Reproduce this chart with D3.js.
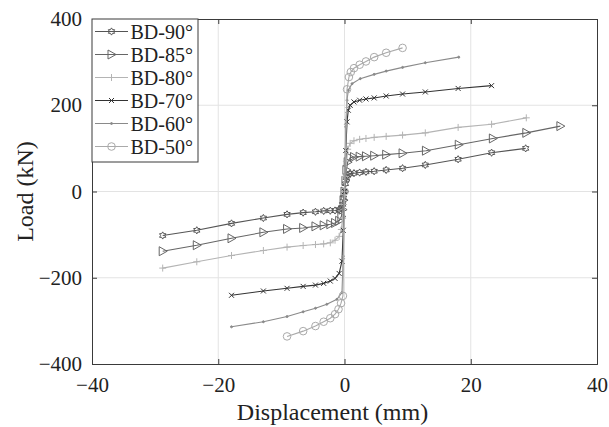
<!DOCTYPE html>
<html><head><meta charset="utf-8">
<script src="https://cdn.jsdelivr.net/npm/d3@7"></script>
<style>body{margin:0;background:#fff}svg{display:block}</style>
</head><body><svg id="c" width="609" height="427"></svg>
<script>
const seriesNames = ["BD-90°","BD-85°","BD-80°","BD-70°","BD-60°","BD-50°"];
const xTicks = [-40,-20,0,20,40];
const yTicks = [-400,-200,0,200,400];

const bd90Disp = [-28.8,-23.4,-17.9,-12.85,-9.1,-6.55,-4.6,-3.3,-2.25,-1.5,-0.85,-0.5,-0.3,-0.15,0,0.15,0.3,0.5,0.9,1.5,2.4,3.4,4.7,6.6,9.2,12.8,18.0,23.3,28.7];
const bd90Load = [-102,-90,-74,-61.5,-53,-49,-47,-45,-44.5,-44,-42,-38,-30,-15,0,18,32,38,41,42.5,44,45.5,47,50,54,61.6,74.7,90,100];

const bd85Disp = [-28.8,-23.4,-17.9,-12.85,-9.1,-6.55,-4.6,-3.3,-2.25,-1.5,-0.85,-0.5,-0.3,-0.15,0,0.15,0.3,0.5,0.9,1.5,2.4,3.4,4.7,6.6,9.2,12.9,18.1,23.5,28.8,34.2];
const bd85Load = [-138.5,-124.6,-108.5,-94.6,-86.8,-84.5,-80.8,-78.5,-76,-73,-68,-58,-42,-20,0,25,50,68,78.5,80,80.8,81.7,83,85.4,88.6,94.6,108.5,123,136,151.6];

const bd80Disp = [-28.8,-23.4,-17.9,-12.85,-9.1,-6.55,-4.6,-3.3,-2.25,-1.5,-0.85,-0.5,-0.3,-0.15,0,0.15,0.3,0.5,0.9,1.5,2.4,3.4,4.7,6.6,9.2,12.8,18.0,23.3,28.8];
const bd80Load = [-177.6,-163,-148.4,-136.8,-129,-125.3,-123,-121.5,-119,-113,-104,-88,-62,-30,0,35,70,98,111.7,117.7,121,123,125.5,127.8,130.8,136,148.6,156,170.8];

const bd70Disp = [-17.9,-12.85,-9.1,-6.55,-4.6,-3.3,-2.25,-1.5,-0.85,-0.4,-0.2,0,0.2,0.4,0.6,0.9,1.5,2.4,3.4,4.7,6.6,9.2,12.8,18.0,23.3];
const bd70Load = [-240.7,-230.7,-224.5,-220,-217,-213,-207.7,-201.5,-190,-161.5,-90,0,95,161.5,188.5,200,207.7,211.6,214.6,217,221.5,226,230.8,239,245.5];

const bd60Disp = [-17.9,-12.85,-9.1,-6.55,-4.6,-2.8,-1.2,-0.4,-0.2,0,0.2,0.4,0.6,1.2,2.5,4.7,6.6,9.2,12.8,18.1];
const bd60Load = [-313.8,-302,-290,-279,-270.7,-261.5,-250,-234.5,-150,0,150,211.6,234.7,250,261.7,271.6,279.2,287.8,298.6,311.5];

const bd50Disp = [-9.1,-6.55,-4.6,-3.3,-2.25,-1.5,-0.95,-0.55,-0.25,0,0.4,0.7,1.0,1.5,2.4,3.4,4.7,6.6,9.2];
const bd50Load = [-336,-323.8,-312,-302,-293.8,-284.5,-273,-259,-242,0,237,265.4,277,286,294,301.6,311.6,321.7,333];

const colors = ["#555555","#666666","#b4b4b4","#333333","#8a8a8a","#aaaaaa"];
const markerTypes = ["hexagram","triangle","plus","cross","dot","circle"];
const dispArrays = [bd90Disp,bd85Disp,bd80Disp,bd70Disp,bd60Disp,bd50Disp];
const loadArrays = [bd90Load,bd85Load,bd80Load,bd70Load,bd60Load,bd50Load];

const svg = d3.select("#c");
const m = {l:92, r:597, t:19, b:364};
const x = d3.scaleLinear().domain([-40,40]).range([m.l,m.r]);
const y = d3.scaleLinear().domain([-400,400]).range([m.b,m.t]);
const axisColor = "#3a3a3a";
const font = "'Liberation Serif','Times New Roman',serif";

// grid
const g = svg.append("g");
g.selectAll(".gx").data(xTicks.slice(1,-1)).enter().append("line")
  .attr("x1",d=>x(d)).attr("x2",d=>x(d)).attr("y1",m.t).attr("y2",m.b)
  .attr("stroke","#e3e3e3").attr("stroke-width",1);
g.selectAll(".gy").data(yTicks.slice(1,-1)).enter().append("line")
  .attr("y1",d=>y(d)).attr("y2",d=>y(d)).attr("x1",m.l).attr("x2",m.r)
  .attr("stroke","#e3e3e3").attr("stroke-width",1);

// axes (ticks inward, box)
const ax = svg.append("g").attr("transform",`translate(0,${m.b})`)
  .call(d3.axisBottom(x).tickValues(xTicks).tickSize(-5).tickPadding(13).tickFormat(d3.format("d")));
const axT = svg.append("g").attr("transform",`translate(0,${m.t})`)
  .call(d3.axisTop(x).tickValues(xTicks).tickSize(-5).tickFormat(""));
const ay = svg.append("g").attr("transform",`translate(${m.l},0)`)
  .call(d3.axisLeft(y).tickValues(yTicks).tickSize(-5).tickPadding(10).tickFormat(d3.format("d")));
const ayR = svg.append("g").attr("transform",`translate(${m.r},0)`)
  .call(d3.axisRight(y).tickValues(yTicks).tickSize(-5).tickFormat(""));
[ax,axT,ay,ayR].forEach(a=>{
  a.select(".domain").attr("stroke",axisColor).attr("stroke-width",1);
  a.selectAll(".tick line").attr("stroke",axisColor);
  a.selectAll("text").attr("fill","#222").style("font-family",font).style("font-size","21px");
});

// marker paths
function markerPath(type){
  if(type==="hexagram"){
    const pts=[];for(let i=0;i<12;i++){const r=i%2?2.1:3.6;const a=Math.PI/6*i-Math.PI/2;pts.push([r*Math.cos(a),r*Math.sin(a)]);}
    return "M"+pts.map(p=>p.join(",")).join("L")+"Z";
  }
  if(type==="triangle") return "M-3.5,-4.5L4.5,0L-3.5,4.5Z";
  if(type==="plus") return "M-3.5,0H3.5M0,-3.5V3.5";
  if(type==="cross") return "M-2.5,-2.5L2.5,2.5M-2.5,2.5L2.5,-2.5";
  if(type==="dot") return "M-1,0a1,1 0 1,0 2,0a1,1 0 1,0 -2,0";
  if(type==="circle") return "M-3.8,0a3.8,3.8 0 1,0 7.6,0a3.8,3.8 0 1,0 -7.6,0";
}

const line = d3.line().x(d=>x(d[0])).y(d=>y(d[1]));
seriesNames.forEach((name,i)=>{
  const data = dispArrays[i].map((d,j)=>[d,loadArrays[i][j]]);
  const sg = svg.append("g");
  sg.append("path").datum(data).attr("d",line).attr("fill","none")
    .attr("stroke",colors[i]).attr("stroke-width",1.1);
  sg.selectAll("path.mk").data(data).enter().append("path").attr("class","mk")
    .attr("transform",d=>`translate(${x(d[0])},${y(d[1])})`)
    .attr("d",markerPath(markerTypes[i]))
    .attr("fill",markerTypes[i]==="dot"?colors[i]:"none").attr("stroke",colors[i]).attr("stroke-width",1);
});

// legend
const lg = svg.append("g");
lg.append("rect").attr("x",m.l).attr("y",m.t).attr("width",106).attr("height",143)
  .attr("fill","#fff").attr("stroke",axisColor).attr("stroke-width",1);
seriesNames.forEach((name,i)=>{
  const yy = 31.5 + i*23;
  lg.append("line").attr("x1",95).attr("x2",128).attr("y1",yy).attr("y2",yy)
    .attr("stroke",colors[i]).attr("stroke-width",1.1);
  lg.append("path").attr("transform",`translate(111.5,${yy})`).attr("d",markerPath(markerTypes[i]))
    .attr("fill",markerTypes[i]==="dot"?colors[i]:"none").attr("stroke",colors[i]);
  lg.append("text").attr("x",130.5).attr("y",yy+7).text(name)
    .style("font-family",font).style("font-size","20px").attr("fill","#222");
});

// axis labels
svg.append("text").attr("x",x(0)-12).attr("y",420).attr("text-anchor","middle")
  .text("Displacement (mm)").style("font-family",font).style("font-size","24px").attr("fill","#222");
svg.append("text").attr("transform",`translate(33,${y(0)}) rotate(-90)`).attr("text-anchor","middle")
  .text("Load (kN)").style("font-family",font).style("font-size","24px").attr("fill","#222");
</script></body></html>
